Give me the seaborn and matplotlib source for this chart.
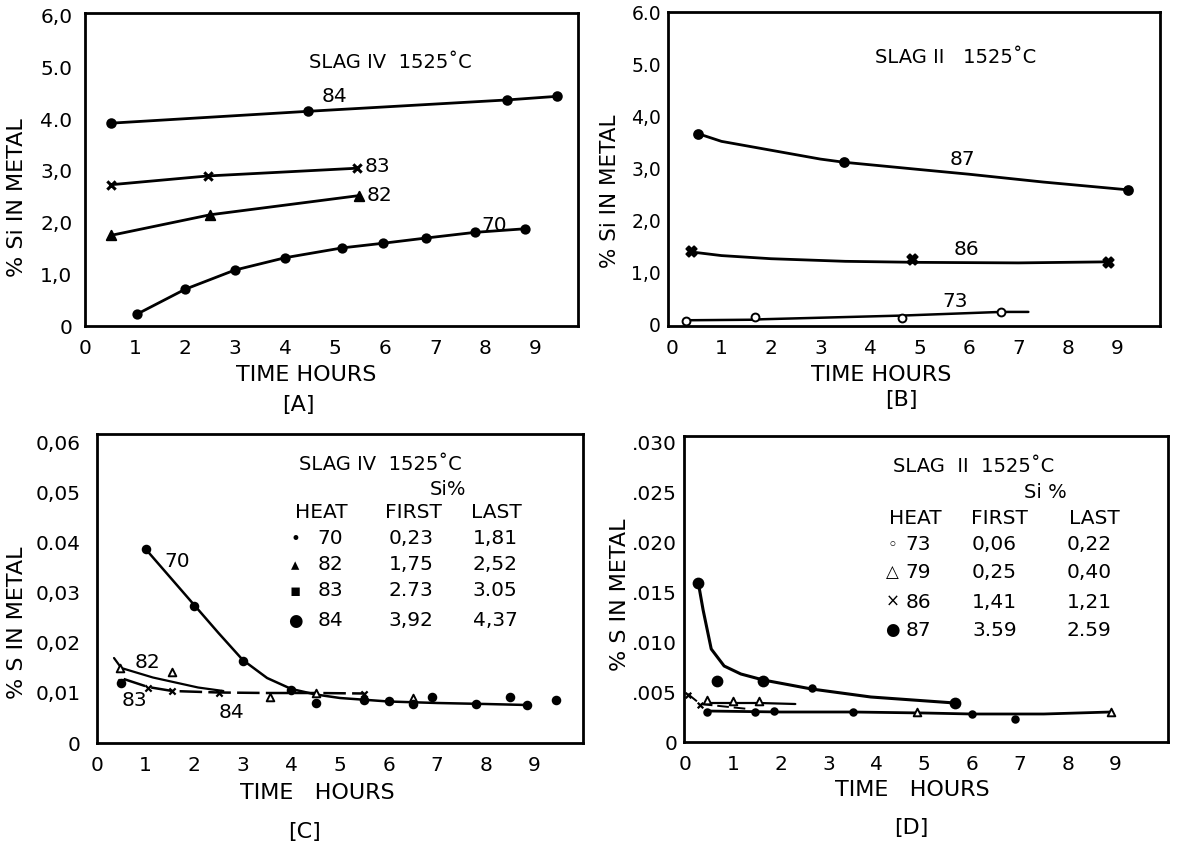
import matplotlib
matplotlib.use("Agg")
import matplotlib.pyplot as plt
import seaborn as sns

# ---------------- [A] %Si in metal, slag IV ----------------
a70_t = [1.04, 2.0, 2.99, 4.0, 5.14, 5.96, 6.81, 7.79, 8.80]
a70_si = [0.23, 0.71, 1.08, 1.32, 1.51, 1.60, 1.70, 1.81, 1.88]
a82_t = [0.51, 2.50, 5.47]
a82_si = [1.75, 2.15, 2.52]
a83_t = [0.51, 2.45, 5.44]
a83_si = [2.73, 2.90, 3.05]
a84_t = [0.51, 4.46, 8.44, 9.44]
a84_si = [3.92, 4.15, 4.37, 4.44]

# ---------------- [B] %Si in metal, slag II ----------------
b87_t = [0.52, 3.47, 9.22]
b87_si = [3.67, 3.12, 2.59]
b87_curve_t = [0.52, 1.0, 2.0, 3.0, 3.47, 5.0, 6.0, 7.5, 9.22]
b87_curve_si = [3.67, 3.52, 3.35, 3.18, 3.12, 2.98, 2.89, 2.74, 2.59]
b86_t = [0.39, 4.85, 8.81]
b86_si = [1.41, 1.26, 1.21]
b86_curve_t = [0.39, 1.0, 2.0, 3.5, 5.0, 7.0, 8.81]
b86_curve_si = [1.40, 1.33, 1.27, 1.22, 1.20, 1.19, 1.21]
b73_t = [0.29, 1.67, 4.65, 6.65]
b73_si = [0.08, 0.15, 0.13, 0.25]
b73_curve_t = [0.29, 1.6, 1.85, 4.65, 6.65, 7.2]
b73_curve_si = [0.09, 0.10, 0.11, 0.18, 0.25, 0.25]

# ---------------- [C] %S in metal, slag IV ----------------
c70_t = [1.0, 2.0, 3.0, 4.0, 6.0, 6.9, 7.8, 8.85]
c70_s = [0.0388, 0.0275, 0.0165, 0.0107, 0.0085, 0.0092, 0.0078, 0.0076]
c70_curve_t = [1.0, 1.5, 2.0, 2.5, 3.0, 3.5, 4.0, 4.5, 5.0, 6.0, 7.0, 8.0, 8.85]
c70_curve_s = [0.0388, 0.0332, 0.0276, 0.0220, 0.0166, 0.0130, 0.0108,
               0.0097, 0.0090, 0.0083, 0.0080, 0.0078, 0.0076]
c82_t = [0.48, 1.55, 3.55, 4.5, 6.5]
c82_s = [0.0150, 0.0142, 0.0093, 0.0101, 0.0090]
c82_curve_t = [0.35, 0.5, 1.15, 2.08, 2.6]
c82_curve_s = [0.0170, 0.0150, 0.0131, 0.0111, 0.0104]
c83_t = [0.5, 1.05, 1.55, 2.5, 5.5]
c83_s = [0.0122, 0.0111, 0.0104, 0.0100, 0.0098]
c83_curve_t = [0.55, 1.05, 1.55, 2.5, 3.5, 4.5, 5.5]
c83_curve_s = [0.0128, 0.0112, 0.0104, 0.0101, 0.0100, 0.0100, 0.0099]
c84_t = [0.5, 4.5, 5.5, 6.5, 8.5, 9.45]
c84_s = [0.0120, 0.0080, 0.0086, 0.0078, 0.0093, 0.0087]

# ---------------- [D] %S in metal, slag II ----------------
d87_t = [0.27, 0.67, 1.63, 5.64]
d87_s = [0.0159, 0.0061, 0.0061, 0.0039]
d87_curve_t = [0.27, 0.37, 0.54, 0.81, 1.16, 1.63, 2.64, 3.88, 5.64]
d87_curve_s = [0.0159, 0.0132, 0.0093, 0.0076, 0.0068, 0.0062, 0.0053, 0.0045, 0.0039]
d73_t = [0.45, 1.45, 1.85, 2.64, 3.5, 6.0, 6.9]
d73_s = [0.0030, 0.0030, 0.0031, 0.0054, 0.0030, 0.0028, 0.0023]
d73_curve_t = [0.45, 2.0, 3.5, 5.0, 6.0, 7.5, 8.9]
d73_curve_s = [0.0031, 0.0030, 0.0030, 0.0029, 0.0028, 0.0028, 0.0030]
d79_t = [0.45, 1.0, 1.55, 4.85, 8.9]
d79_s = [0.0042, 0.0041, 0.0041, 0.0030, 0.0030]
d79_curve_t = [0.5, 1.0, 1.55, 2.3]
d79_curve_s = [0.0039, 0.0039, 0.0039, 0.0038]
d86_t = [0.05, 0.3]
d86_s = [0.0047, 0.0037]
d86_curve_t = [0.05, 0.31, 1.32]
d86_curve_s = [0.0048, 0.0038, 0.0033]

# Heat tables printed inside the sulphur panels
c_heats = ["70", "82", "83", "84"]
c_first = ["0,23", "1,75", "2.73", "3,92"]
c_last = ["1,81", "2,52", "3.05", "4,37"]
c_glyphs = ["\u2022", "\u25b4", "\u25aa", "\u25cf"]
d_heats = ["73", "79", "86", "87"]
d_first = ["0,06", "0,25", "1,41", "3.59"]
d_last = ["0,22", "0,40", "1,21", "2.59"]
d_glyphs = ["\u25e6", "\u25b3", "\u00d7", "\u25cf"]

x_ticks = list(range(10))
a_yticks = [0, 1, 2, 3, 4, 5, 6]
a_ylabels = ["0", "1,0", "2,0", "3,0", "4.0", "5.0", "6,0"]
b_ylabels = ["0", "1,0", "2,0", "3,0", "4,0", "5.0", "6.0"]
c_yticks = [0, 0.01, 0.02, 0.03, 0.04, 0.05, 0.06]
c_ylabels = ["0", "0,01", "0,02", "0,03", "0.04", "0,05", "0,06"]
d_yticks = [0, 0.005, 0.010, 0.015, 0.020, 0.025, 0.030]
d_ylabels = ["0", ".005", ".010", ".015", ".020", ".025", ".030"]

sns.set_theme(style="white")
plt.rcParams["font.family"] = ["DejaVu Sans"]
plt.rcParams["text.color"] = "black"

INK = "black"
fig = plt.figure(figsize=(11.78, 8.46), dpi=100)
W, H = 1178, 846


def box(l, t, r, b):
    return [l / W, 1 - b / H, (r - l) / W, (b - t) / H]


def setup(ax, xlim, ylim, yticks, ylabels, ylabel, xlabel, tag,
          ylab_xy, xlab_xy, tag_xy, ypad, ysize=14.5, ylab_size=16):
    ax.set_xlim(*xlim)
    ax.set_ylim(*ylim)
    ax.set_xticks(x_ticks)
    ax.set_xticklabels([str(v) for v in x_ticks])
    ax.set_yticks(yticks)
    ax.set_yticklabels(ylabels)
    ax.grid(False)
    for sp in ax.spines.values():
        sp.set_visible(True)
        sp.set_color(INK)
        sp.set_linewidth(2.0)
    ax.tick_params(axis="both", direction="in", length=5, width=1.6,
                   color=INK, labelcolor=INK, labelsize=14.5)
    ax.tick_params(axis="y", pad=ypad, labelsize=ysize)
    ax.tick_params(axis="x", pad=9)
    ax.set_xlabel("")
    ax.set_ylabel("")
    ax.text(*xlab_xy, xlabel, transform=ax.transAxes, ha="center",
            va="center", fontsize=16)
    ax.text(*ylab_xy, ylabel, transform=ax.transAxes, ha="center",
            va="center", rotation=90, fontsize=ylab_size)
    ax.text(*tag_xy, tag, transform=ax.transAxes, ha="center",
            va="center", fontsize=16)


def curve(ax, t, v, dashes=None, lw=2.0):
    sns.lineplot(x=t, y=v, ax=ax, color=INK, lw=lw, sort=False,
                 estimator=None, legend=False)
    if dashes is not None:
        ax.lines[-1].set_dashes(dashes)


def points(ax, t, v, marker, size, face=INK, lw=1.4):
    if marker in ("x", "+"):
        sns.scatterplot(x=t, y=v, ax=ax, marker=marker, s=size, color=INK,
                        linewidth=lw + 0.8, zorder=4, legend=False)
    else:
        sns.scatterplot(x=t, y=v, ax=ax, marker=marker, s=size,
                        facecolor=face, edgecolor=INK, linewidth=lw,
                        zorder=4, legend=False)


# ================= [A] =================
axA = fig.add_axes(box(85, 13, 578, 326))
curve(axA, a84_t, a84_si)
curve(axA, a83_t, a83_si)
curve(axA, a82_t, a82_si)
curve(axA, a70_t, a70_si)
points(axA, a84_t, a84_si, "o", 38)
points(axA, a83_t, a83_si, "x", 36)
points(axA, a82_t, a82_si, "^", 46)
points(axA, a70_t, a70_si, "o", 36)
for lbl, tx, ty in [("84", 4.98, 4.43), ("83", 5.84, 3.08),
                    ("82", 5.88, 2.52), ("70", 8.18, 1.94)]:
    axA.text(tx, ty, lbl, ha="center", va="center", fontsize=14.5)
axA.text(6.1, 5.1, "SLAG IV  1525\u02daC", ha="center", va="center",
         fontsize=14)
setup(axA, (0, 9.85), (0, 6.05), a_yticks, a_ylabels, "% Si IN METAL",
      "TIME HOURS", "[A]", (-0.138, 0.41), (0.448, -0.157),
      (0.432, -0.252), 9)

# ================= [B] =================
axB = fig.add_axes(box(668, 12, 1160, 326))
curve(axB, b87_curve_t, b87_curve_si)
curve(axB, b86_curve_t, b86_curve_si)
curve(axB, b73_curve_t, b73_curve_si, lw=1.8)
points(axB, b87_t, b87_si, "o", 40)
points(axB, b86_t, b86_si, "X", 55)
points(axB, b73_t, b73_si, "o", 32, face="white")
for lbl, tx, ty in [("87", 5.87, 3.17), ("86", 5.94, 1.44),
                    ("73", 5.72, 0.45)]:
    axB.text(tx, ty, lbl, ha="center", va="center", fontsize=14.5)
axB.text(5.73, 5.13, "SLAG II   1525\u02daC", ha="center", va="center",
         fontsize=14)
setup(axB, (-0.08, 9.86), (-0.02, 6.0), a_yticks, b_ylabels,
      "% Si IN METAL", "TIME HOURS", "[B]", (-0.118, 0.43),
      (0.433, -0.156), (0.474, -0.236), 5, ysize=13.5, ylab_size=15.5)

# ================= [C] =================
axC = fig.add_axes(box(97, 434, 583, 743))
curve(axC, c70_curve_t, c70_curve_s, lw=1.8)
curve(axC, c82_curve_t, c82_curve_s, lw=1.6)
curve(axC, c83_curve_t, c83_curve_s, dashes=(9, 2.5), lw=1.8)
points(axC, c70_t, c70_s, "o", 30)
points(axC, c82_t, c82_s, "^", 30, face="white")
points(axC, c83_t, c83_s, "x", 20, lw=0.8)
points(axC, c84_t, c84_s, "o", 30)
for lbl, tx, ty in [("70", 1.65, 0.0363), ("82", 1.04, 0.0161),
                    ("83", 0.77, 0.0085), ("84", 2.77, 0.0062)]:
    axC.text(tx, ty, lbl, ha="center", va="center", fontsize=14.5)
axC.text(4.15, 0.0556, "SLAG IV  1525\u02daC", ha="left", va="center",
         fontsize=14)
axC.text(6.85, 0.0507, "Si%", ha="left", va="center", fontsize=14)
axC.text(4.08, 0.0462, "HEAT", ha="left", va="center", fontsize=14.5)
axC.text(5.92, 0.0462, "FIRST", ha="left", va="center", fontsize=14.5)
axC.text(7.69, 0.0462, "LAST", ha="left", va="center", fontsize=14.5)
for i, ry in enumerate([0.0408, 0.0356, 0.0304, 0.0245]):
    axC.text(4.08, ry, c_glyphs[i], ha="center", va="center", fontsize=12)
    axC.text(4.54, ry, c_heats[i], ha="left", va="center", fontsize=14.5)
    axC.text(6.0, ry, c_first[i], ha="left", va="center", fontsize=14.5)
    axC.text(7.73, ry, c_last[i], ha="left", va="center", fontsize=14.5)
setup(axC, (0, 10.0), (0, 0.0618), c_yticks, c_ylabels, "% S IN METAL",
      "TIME   HOURS", "[C]", (-0.165, 0.39), (0.453, -0.162),
      (0.426, -0.288), 12)

# ================= [D] =================
axD = fig.add_axes(box(684, 436, 1168, 742))
curve(axD, d87_curve_t, d87_curve_s, lw=2.2)
curve(axD, d73_curve_t, d73_curve_s, lw=2.0)
curve(axD, d79_curve_t, d79_curve_s, lw=1.6)
curve(axD, d86_curve_t, d86_curve_s, dashes=(6, 2.5), lw=1.4)
points(axD, d87_t, d87_s, "o", 50)
points(axD, d73_t, d73_s, "o", 22)
points(axD, d79_t, d79_s, "^", 30, face="white")
points(axD, d86_t, d86_s, "x", 16, lw=0.8)
axD.text(4.34, 0.0276, "SLAG  II  1525\u02daC", ha="left", va="center",
         fontsize=14)
axD.text(7.09, 0.0249, "Si %", ha="left", va="center", fontsize=14)
axD.text(4.26, 0.0224, "HEAT", ha="left", va="center", fontsize=14.5)
axD.text(5.98, 0.0224, "FIRST", ha="left", va="center", fontsize=14.5)
axD.text(8.02, 0.0224, "LAST", ha="left", va="center", fontsize=14.5)
for i, ry in enumerate([0.0197, 0.0170, 0.0140, 0.0112]):
    axD.text(4.34, ry, d_glyphs[i], ha="center", va="center", fontsize=12)
    axD.text(4.61, ry, d_heats[i], ha="left", va="center", fontsize=14.5)
    axD.text(6.0, ry, d_first[i], ha="left", va="center", fontsize=14.5)
    axD.text(7.98, ry, d_last[i], ha="left", va="center", fontsize=14.5)
setup(axD, (-0.03, 10.1), (0, 0.0306), d_yticks, d_ylabels,
      "% S IN METAL", "TIME   HOURS", "[D]", (-0.132, 0.48),
      (0.471, -0.157), (0.469, -0.281), 5)

fig.savefig("out.png", dpi=100, facecolor="white")
